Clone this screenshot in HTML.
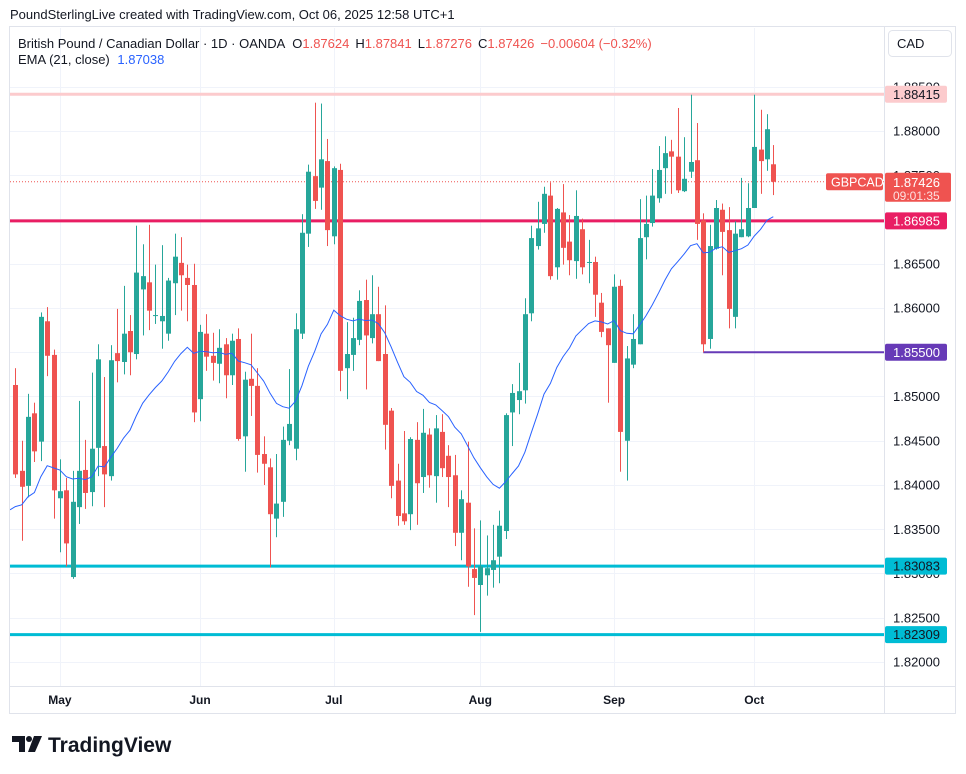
<!DOCTYPE html>
<html><head><meta charset="utf-8"><style>
body{margin:0;background:#fff;width:966px;height:774px;overflow:hidden;font-family:"Liberation Sans",sans-serif;}
svg{position:absolute;left:0;top:0}
</style></head><body>
<svg id="c" width="966" height="774" xmlns="http://www.w3.org/2000/svg" font-family="Liberation Sans, sans-serif"></svg>
<script>
// Data
const opens  = [1.8513,1.8416,1.8399,1.8481,1.8449,1.8585,1.8547,1.8385,1.8394,1.8296,1.8375,1.8417,1.8392,1.8442,1.8444,1.8410,1.8549,1.8539,1.8574,1.8548,1.8621,1.8629,1.8591,1.8585,1.8571,1.8628,1.8651,1.8634,1.8626,1.8497,1.8571,1.8546,1.8537,1.8559,1.8524,1.8565,1.8455,1.8520,1.8512,1.8435,1.8420,1.8362,1.8381,1.8450,1.8441,1.8571,1.8684,1.8749,1.8736,1.8766,1.8681,1.8756,1.8532,1.8547,1.8564,1.8609,1.8566,1.8593,1.8548,1.8484,1.8405,1.8368,1.8367,1.8451,1.8409,1.8457,1.8410,1.8460,1.8433,1.8411,1.8346,1.8380,1.8305,1.8287,1.8298,1.8304,1.8319,1.8348,1.8482,1.8496,1.8507,1.8594,1.8670,1.8695,1.8727,1.8646,1.8708,1.8675,1.8653,1.8689,1.8652,1.8652,1.8606,1.8577,1.8538,1.8625,1.8450,1.8536,1.8559,1.8680,1.8696,1.8724,1.8758,1.8777,1.8771,1.8732,1.8754,1.8767,1.8699,1.8565,1.8667,1.8711,1.8688,1.8590,1.8680,1.8681,1.8713,1.8779,1.8768,1.87624];
const highs  = [1.8532,1.8450,1.8503,1.8493,1.8595,1.8601,1.8553,1.8429,1.8408,1.8416,1.8495,1.8451,1.8527,1.8559,1.8522,1.8558,1.8599,1.8625,1.8592,1.8693,1.8672,1.8694,1.8649,1.8671,1.8634,1.8684,1.8680,1.8649,1.8650,1.8581,1.8593,1.8572,1.8576,1.8566,1.8571,1.8577,1.8528,1.8571,1.8532,1.8455,1.8430,1.8435,1.8466,1.8531,1.8594,1.8706,1.8762,1.8832,1.8831,1.8791,1.8760,1.8763,1.8584,1.8589,1.8620,1.8632,1.8637,1.8624,1.8603,1.8487,1.8424,1.8461,1.8454,1.8471,1.8486,1.8464,1.8479,1.8480,1.8445,1.8434,1.8394,1.8449,1.8351,1.8360,1.8343,1.8355,1.8371,1.8481,1.8514,1.8538,1.8611,1.8693,1.8720,1.8737,1.8742,1.8713,1.8740,1.8705,1.8733,1.8701,1.8677,1.8658,1.8617,1.8577,1.8638,1.8632,1.8557,1.8593,1.8723,1.8727,1.8757,1.8783,1.8794,1.8790,1.8826,1.8793,1.8841,1.8809,1.8707,1.8694,1.8722,1.8718,1.8714,1.8698,1.8747,1.8741,1.8841,1.8824,1.8819,1.87841];
const lows   = [1.8408,1.8337,1.8386,1.8426,1.8427,1.8523,1.8362,1.8324,1.8308,1.8294,1.8356,1.8373,1.8376,1.8410,1.8375,1.8405,1.8516,1.8525,1.8524,1.8542,1.8569,1.8575,1.8582,1.8554,1.8563,1.8592,1.8597,1.8585,1.8471,1.8472,1.8529,1.8518,1.8515,1.8498,1.8513,1.8450,1.8415,1.8478,1.8414,1.8400,1.8307,1.8341,1.8364,1.8445,1.8428,1.8565,1.8669,1.8712,1.8711,1.8670,1.8672,1.8506,1.8497,1.8529,1.8558,1.8508,1.8560,1.8540,1.8440,1.8385,1.8354,1.8355,1.8349,1.8355,1.8391,1.8397,1.8380,1.8409,1.8375,1.8331,1.8315,1.8285,1.8253,1.8234,1.8275,1.8284,1.8289,1.8339,1.8444,1.8480,1.8492,1.8585,1.8666,1.8685,1.8632,1.8632,1.8649,1.8637,1.8633,1.8638,1.8628,1.8590,1.8567,1.8493,1.8538,1.8415,1.8405,1.8532,1.8559,1.8655,1.8692,1.8719,1.8729,1.8729,1.8730,1.8731,1.8747,1.8677,1.8550,1.8554,1.8666,1.8637,1.8577,1.8577,1.8680,1.8680,1.8713,1.8729,1.8755,1.87276];
const closes = [1.8412,1.8398,1.8477,1.8438,1.8590,1.8546,1.8394,1.8393,1.8334,1.8381,1.8416,1.8391,1.8441,1.8542,1.8412,1.8541,1.8540,1.8571,1.8550,1.8640,1.8636,1.8597,1.8592,1.8591,1.8631,1.8658,1.8637,1.8626,1.8482,1.8573,1.8545,1.8538,1.8555,1.8524,1.8563,1.8452,1.8519,1.8512,1.8434,1.8424,1.8367,1.8379,1.8451,1.8469,1.8576,1.8685,1.8754,1.8721,1.8768,1.8688,1.8758,1.8529,1.8548,1.8566,1.8608,1.8569,1.8593,1.8540,1.8468,1.8399,1.8365,1.8359,1.8452,1.8402,1.8459,1.8411,1.8464,1.8419,1.8409,1.8346,1.8384,1.8308,1.8295,1.8308,1.8306,1.8315,1.8354,1.8479,1.8504,1.8506,1.8593,1.8679,1.8690,1.8729,1.8636,1.8712,1.8668,1.8654,1.8704,1.8646,1.8652,1.8615,1.8573,1.8558,1.8624,1.8460,1.8543,1.8565,1.8679,1.8695,1.8727,1.8756,1.8775,1.8771,1.8733,1.8746,1.8765,1.8695,1.8559,1.8670,1.8713,1.8686,1.8599,1.8684,1.8689,1.8713,1.8782,1.8766,1.8802,1.87426];
const emaSeed = 1.8372;
const priceTicks = [1.885,1.880,1.875,1.870,1.865,1.860,1.855,1.850,1.845,1.840,1.835,1.830,1.825,1.820];
const monthLabels = ["May","Jun","Jul","Aug","Sep","Oct"];
const monthIndex = [7,29,50,73,94,116];
const levelValues = [1.88415,1.86985,1.85500,1.83083,1.82309];
const levelColors = ["#fccbcd","#e91e63","#673ab7","#00bcd4","#00bcd4"];
const levelStart = [0,0,108,0,0];

const NS="http://www.w3.org/2000/svg";
const svg=document.getElementById('c');
const L=10,R=884,T=28,B=686;
function yS(p){return 131+(1.88-p)*8850;}
function xS(i){return 15.3+i*6.37;}
function mk(tag,attrs,parent){const e=document.createElementNS(NS,tag);for(const k in attrs)e.setAttribute(k,attrs[k]);(parent||svg).appendChild(e);return e;}
function txt(s,attrs,parent){const e=mk('text',attrs,parent);e.textContent=s;return e;}

// header
let h=txt("PoundSterlingLive created with TradingView.com, Oct 06, 2025 12:58 UTC+1",{x:10,y:19,'font-size':13,fill:'#131722'});



// pane frame
let fr=mk('rect',{x:9.5,y:26.5,width:946,height:687,fill:'none',stroke:'#e0e3eb'});


let ax=mk('line',{x1:884.5,y1:27,x2:884.5,y2:713,stroke:'#e0e3eb'});


let tx=mk('line',{x1:10,y1:686.5,x2:956,y2:686.5,stroke:'#e0e3eb'});



// grid
const grid=mk('g',{stroke:'#f0f3fa','stroke-width':1});


priceTicks.forEach(p=>{const y=Math.round(yS(p))+0.5;mk('line',{x1:L,x2:R,y1:y,y2:y},grid);});
monthIndex.forEach(i=>{const x=Math.round(xS(i))+0.5;mk('line',{x1:x,x2:x,y1:T,y2:B},grid);});

// price tick labels
priceTicks.forEach(p=>{const y=yS(p);if(y<T+10||y>B-5)return;
 const t=txt(p.toFixed(5),{x:893,y:y+4.5,'font-size':13,fill:'#131722'});
 
 });
// month labels
monthLabels.forEach((m,k)=>{const t=txt(m,{x:xS(monthIndex[k]),y:704,'font-size':12,'font-weight':'bold',fill:'#131722','text-anchor':'middle'});
 
 });

// clip
const defs=mk('defs',{});const cp=mk('clipPath',{id:'pc'},defs);mk('rect',{x:L,y:T,width:R-L,height:B-T},cp);
const plot=mk('g',{'clip-path':'url(#pc)'});



// levels
levelValues.forEach((v,k)=>{const y=yS(v);
 const ln=mk('line',{x1:k==2?xS(levelStart[k]):L,x2:R,y1:y,y2:y,stroke:levelColors[k],'stroke-width':k==2?2:3},plot);
 
 });
// current price dotted
const cy=yS(closes[closes.length-1]);
const cl=mk('line',{x1:L,x2:R,y1:cy,y2:cy,stroke:'#ef5350','stroke-width':1,'stroke-dasharray':'1 2'},plot);



// candles
const cg=mk('g',{},plot);


opens.forEach((o,i)=>{const c=closes[i];const col=c>=o?'#26a69a':'#ef5350';const x=xS(i);
 const g=mk('g',{fill:col},cg);
 
 
 const yh=yS(highs[i]),yl=yS(lows[i]);mk('rect',{x:Math.round(x),y:yh,width:1,height:Math.max(1,yl-yh)},g);
 const yt=yS(Math.max(o,c)),yb=yS(Math.min(o,c));mk('rect',{x:Math.round(x)-2,y:yt,width:5,height:Math.max(1,yb-yt)},g);});

// EMA
const alpha=2/22;let e=emaSeed;const pts=[L+','+yS(emaSeed).toFixed(1)];
closes.forEach((c,i)=>{e=alpha*c+(1-alpha)*e;pts.push(xS(i).toFixed(1)+','+yS(e).toFixed(1));});
const em=mk('polyline',{points:pts.join(' '),fill:'none',stroke:'#2962ff','stroke-width':1},plot);



// axis badges
function badge(v,bg,fg,name){const y=yS(v);const g=mk('g',{});
 
 
 mk('rect',{x:885,y:y-8.5,width:62,height:17,rx:2,fill:bg},g);
 txt(v.toFixed(5),{x:893,y:y+4.5,'font-size':13,fill:fg},g);}
badge(levelValues[0],'#fccbcd','#131722','level-badge-high');
badge(levelValues[1],'#e91e63','#ffffff','level-badge-resistance');
badge(levelValues[2],'#673ab7','#ffffff','level-badge-low');
badge(levelValues[3],'#00bcd4','#131722','level-badge-support');
badge(levelValues[4],'#00bcd4','#131722','level-badge-support-low');
// last price badge
const lg=mk('g',{});


mk('rect',{x:885,y:cy-9,width:66,height:29,rx:2,fill:'#ef5350'},lg);
txt(closes[closes.length-1].toFixed(5),{x:893,y:cy+5,'font-size':13,fill:'#fff'},lg);
txt("09:01:35",{x:893,y:cy+18,'font-size':12,fill:'#fde0e0'},lg);
mk('rect',{x:826,y:cy-8.5,width:57,height:17,rx:2,fill:'#ef5350'},lg);
txt("GBPCAD",{x:831,y:cy+4.5,'font-size':12.5,fill:'#fff'},lg);

// CAD button
const cb=mk('g',{});


mk('rect',{x:888.5,y:30.5,width:63,height:26,rx:4,fill:'#fff',stroke:'#e0e3eb'},cb);
txt("CAD",{x:897,y:48,'font-size':13,fill:'#131722'},cb);

// legend
const lgd=mk('text',{x:18,y:48,'font-size':13,fill:'#131722'});


lgd.innerHTML='British Pound / Canadian Dollar · 1D · OANDA <tspan dx="4">O</tspan><tspan fill="#ef5350">1.87624</tspan><tspan dx="6">H</tspan><tspan fill="#ef5350">1.87841</tspan><tspan dx="6">L</tspan><tspan fill="#ef5350">1.87276</tspan><tspan dx="6">C</tspan><tspan fill="#ef5350">1.87426</tspan><tspan dx="6" fill="#ef5350">−0.00604 (−0.32%)</tspan>';
const el2=mk('text',{x:18,y:64,'font-size':13,fill:'#131722'});


el2.innerHTML='EMA (21, close) <tspan dx="4" fill="#2962ff">1.87038</tspan>';

// logo
const lo=mk('g',{});


mk('path',{d:'M12 736h13v16h-6v-10h-7z',fill:'#131722'},lo);
mk('circle',{cx:29,cy:739,r:3,fill:'#131722'},lo);
mk('path',{d:'M34 736h8l-7 16h-7z',fill:'#131722'},lo);
txt("TradingView",{x:48,y:752,'font-size':21,'font-weight':'bold',fill:'#131722'},lo);
</script>
</body></html>
